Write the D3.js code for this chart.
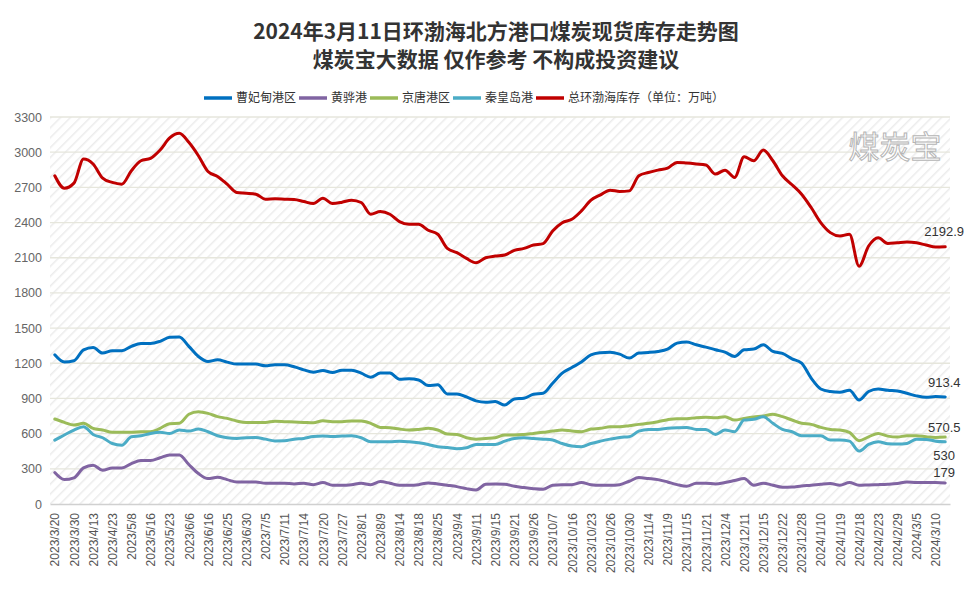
<!DOCTYPE html>
<html>
<head>
<meta charset="utf-8">
<script src="https://cdn.jsdelivr.net/npm/d3@7"></script>
<style>
  body { margin: 0; background: #fff; }
  svg { display: block; }
</style>
</head>
<body>
<svg id="chart" width="972" height="599"></svg>
<script>
// tick labels on every second point (94 points in total, last one is 2024/3/11)
const dateLabels = ["2023/3/20", "2023/3/30", "2023/4/13", "2023/4/23", "2023/5/8", "2023/5/16", "2023/5/23",
    "2023/6/6", "2023/6/16", "2023/6/25", "2023/6/30", "2023/7/5", "2023/7/11", "2023/7/14", "2023/7/20",
    "2023/7/27", "2023/8/1", "2023/8/9", "2023/8/14", "2023/8/18", "2023/8/25", "2023/9/4", "2023/9/11",
    "2023/9/15", "2023/9/21", "2023/9/26", "2023/10/7", "2023/10/16", "2023/10/23", "2023/10/26", "2023/10/30",
    "2023/11/4", "2023/11/9", "2023/11/15", "2023/11/21", "2023/12/4", "2023/12/11", "2023/12/15", "2023/12/22",
    "2023/12/28", "2024/1/10", "2024/1/19", "2024/2/18", "2024/2/23", "2024/2/29", "2024/3/5", "2024/3/10"];

const caofeidian = [1272, 1210, 1221, 1315, 1335, 1287, 1307, 1307, 1344, 1369, 1369, 1387, 1421, 1424, 1344, 1258,
    1215, 1230, 1210, 1193, 1193, 1193, 1178, 1187, 1187, 1170, 1144, 1124, 1138, 1121, 1141, 1141, 1116, 1081,
    1116, 1116, 1064, 1067, 1058, 1010, 1016, 939, 939, 913, 879, 867, 873, 844, 896, 902, 936, 944, 1030, 1116,
    1164, 1210, 1272, 1290, 1295, 1278, 1244, 1287, 1292, 1301, 1321, 1372, 1381, 1358, 1338, 1315, 1295, 1258,
    1315, 1321, 1358, 1301, 1284, 1238, 1201, 1073, 981, 959, 953, 970, 887, 959, 981, 970, 964, 944, 922, 910,
    916, 913.4];
const huanghua = [268, 208, 223, 308, 331, 288, 308, 308, 345, 371, 371, 394, 417, 417, 337, 260, 217, 228, 208,
    188, 188, 188, 177, 177, 177, 171, 177, 165, 183, 160, 160, 165, 177, 165, 191, 177, 160, 160, 165, 180, 171,
    160, 148, 131, 120, 168, 171, 168, 151, 140, 131, 126, 160, 165, 165, 183, 165, 160, 160, 165, 194, 225, 217,
    208, 188, 165, 151, 177, 177, 171, 183, 200, 217, 160, 177, 160, 143, 145, 154, 160, 168, 174, 160, 183, 160,
    163, 165, 168, 174, 188, 183, 183, 183, 179];
const jingtang = [725, 696, 673, 688, 645, 631, 611, 611, 611, 616, 616, 645, 685, 688, 765, 787, 773, 745, 730,
    708, 696, 696, 696, 705, 702, 699, 696, 693, 710, 702, 702, 708, 708, 688, 653, 650, 639, 631, 636, 645, 631,
    596, 593, 565, 553, 559, 565, 588, 588, 593, 602, 611, 622, 631, 622, 616, 639, 645, 659, 659, 668, 679, 688,
    702, 719, 728, 728, 736, 739, 736, 745, 716, 730, 742, 750, 765, 745, 716, 688, 679, 653, 636, 631, 611, 539,
    573, 602, 579, 571, 582, 582, 573, 568, 570.5];
const qinhuangdao = [545, 588, 631, 659, 593, 565, 516, 502, 573, 582, 602, 611, 602, 631, 622, 639, 616, 582, 565,
    559, 565, 568, 553, 538, 539, 553, 559, 576, 579, 576, 579, 582, 565, 531, 531, 531, 536, 531, 522, 508, 488,
    482, 471, 479, 508, 508, 508, 536, 559, 565, 559, 553, 545, 516, 494, 488, 516, 536, 553, 568, 573, 622, 636,
    636, 645, 650, 653, 636, 636, 593, 631, 616, 716, 722, 745, 688, 636, 616, 582, 582, 582, 545, 545, 536, 451,
    508, 531, 514, 511, 516, 553, 551, 536, 530];
const total = [2799, 2693, 2736, 2941, 2899, 2779, 2742, 2727, 2842, 2927, 2947, 3018, 3121, 3161, 3084, 2970,
    2836, 2793, 2727, 2656, 2650, 2642, 2599, 2602, 2599, 2596, 2579, 2562, 2608, 2562, 2573, 2591, 2571, 2471,
    2494, 2471, 2408, 2385, 2385, 2334, 2300, 2180, 2143, 2094, 2057, 2100, 2114, 2123, 2163, 2180, 2208, 2220,
    2328, 2399, 2428, 2499, 2591, 2636, 2676, 2665, 2670, 2799, 2827, 2847, 2864, 2913, 2907, 2899, 2890, 2813,
    2847, 2785, 2961, 2927, 3018, 2927, 2799, 2722, 2642, 2528, 2399, 2314, 2285, 2300, 2028, 2200, 2271, 2222,
    2228, 2234, 2228, 2208, 2191, 2192.9];

const yTicks = [0, 300, 600, 900, 1200, 1500, 1800, 2100, 2400, 2700, 3000, 3300];

const series = [
    {name: "曹妃甸港区", values: caofeidian, color: "#0070C0", labelDy: -10},
    {name: "黄骅港", values: huanghua, color: "#8064A2", labelDy: -6},
    {name: "京唐港区", values: jingtang, color: "#9BBB59", labelDy: -5},
    {name: "秦皇岛港", values: qinhuangdao, color: "#4BACC6", labelDy: 18},
    {name: "总环渤海库存（单位：万吨）", values: total, color: "#C00000", labelDy: -11}
];

const cjk = "'Noto Sans CJK SC', 'Noto Sans', sans-serif";
const latin = "'Liberation Sans', Arial, sans-serif";

const margin = {top: 117, right: 22, bottom: 95, left: 50};
const width = 972 - margin.left - margin.right,
    height = 599 - margin.top - margin.bottom;

const svg = d3.select("#chart");

const defs = svg.append("defs");
const pattern = defs.append("pattern")
    .attr("id", "hatch")
    .attr("patternUnits", "userSpaceOnUse")
    .attr("width", 7)
    .attr("height", 7)
    .attr("patternTransform", "rotate(45)");
pattern.append("rect").attr("width", 7).attr("height", 7).attr("fill", "#fff");
pattern.append("line")
    .attr("x1", 0).attr("y1", 0).attr("x2", 0).attr("y2", 7)
    .attr("stroke", "#ececec")
    .attr("stroke-width", 3);

// title
svg.append("text")
    .attr("x", 496).attr("y", 39)
    .attr("text-anchor", "middle")
    .attr("font-family", cjk).attr("font-size", 21).attr("font-weight", "bold")
    .attr("fill", "#333")
    .text("2024年3月11日环渤海北方港口煤炭现货库存走势图");
svg.append("text")
    .attr("x", 496).attr("y", 67)
    .attr("text-anchor", "middle")
    .attr("font-family", cjk).attr("font-size", 21).attr("font-weight", "bold")
    .attr("fill", "#333")
    .text("煤炭宝大数据 仅作参考 不构成投资建议");

const g = svg.append("g")
    .attr("transform", "translate(" + margin.left + "," + margin.top + ")");

g.append("rect")
    .attr("width", width).attr("height", height)
    .attr("fill", "url(#hatch)");

const idx = d3.range(total.length);
const x = d3.scalePoint()
    .domain(idx)
    .range([0, width])
    .padding(0.5);

const y = d3.scaleLinear()
    .domain([0, 3300])
    .range([height, 0]);

// grid
g.append("g")
    .selectAll("line")
    .data(yTicks.filter(d => d > 0))
    .join("line")
    .attr("x1", 0).attr("x2", width)
    .attr("y1", d => y(d)).attr("y2", d => y(d))
    .attr("stroke", "#e6e6dc")
    .attr("stroke-width", 1.3);

// Y axis
const yAxis = g.append("g")
    .call(d3.axisLeft(y).tickValues(yTicks).tickFormat(d3.format("d")).tickSize(0).tickPadding(8));
yAxis.select(".domain").remove();
yAxis.selectAll("text")
    .attr("font-family", latin).attr("font-size", 12.5).attr("fill", "#666");

// X axis
const xAxis = g.append("g")
    .attr("transform", "translate(0," + height + ")")
    .call(d3.axisBottom(x)
        .tickValues(idx.filter(i => i % 2 === 0))
        .tickFormat(i => dateLabels[i / 2])
        .tickSize(0));
xAxis.select(".domain")
    .attr("stroke", "#d0d0d0").attr("stroke-width", 1.5);
xAxis.selectAll("text")
    .attr("font-family", latin).attr("font-size", 12).attr("fill", "#555")
    .attr("text-anchor", "end")
    .attr("transform", "translate(0,9) rotate(-90)")
    .attr("x", 0).attr("y", 0).attr("dy", "0.35em");

// watermark
svg.append("text")
    .attr("x", 895).attr("y", 158)
    .attr("text-anchor", "middle")
    .attr("font-family", cjk).attr("font-size", 31)
    .attr("fill", "#fff").attr("stroke", "#b5b5b5").attr("stroke-width", 1)
    .text("煤炭宝");

// lines
const line = d3.line()
    .curve(d3.curveMonotoneX)
    .x((d, i) => x(i))
    .y(d => y(d));

g.append("g")
    .selectAll("path")
    .data(series)
    .join("path")
    .attr("fill", "none")
    .attr("stroke", d => d.color)
    .attr("stroke-width", 3)
    .attr("stroke-linejoin", "round")
    .attr("stroke-linecap", "round")
    .attr("d", d => line(d.values));

// end labels
g.append("g")
    .selectAll("text")
    .data(series)
    .join("text")
    .attr("x", d => x(d.values.length - 1) - 1)
    .attr("y", d => y(d.values[d.values.length - 1]) + d.labelDy)
    .attr("text-anchor", "middle")
    .attr("font-family", latin).attr("font-size", 13).attr("fill", "#333")
    .text(d => d.values[d.values.length - 1]);

// legend
const legendItems = [];
let lx = 204;
series.forEach(s => {
    legendItems.push({s: s, x: lx});
    lx += 32 + s.name.length * 12 + 3;
});
const legend = svg.append("g").attr("transform", "translate(0,98)");
const li = legend.selectAll("g")
    .data(legendItems)
    .join("g")
    .attr("transform", d => "translate(" + d.x + ",0)");
li.append("line")
    .attr("x1", 0).attr("x2", 28)
    .attr("stroke", d => d.s.color)
    .attr("stroke-width", 3.5);
li.append("text")
    .attr("x", 32).attr("y", 0).attr("dy", "0.35em")
    .attr("font-family", cjk).attr("font-size", 12).attr("fill", "#333")
    .text(d => d.s.name);
</script>
</body>
</html>
